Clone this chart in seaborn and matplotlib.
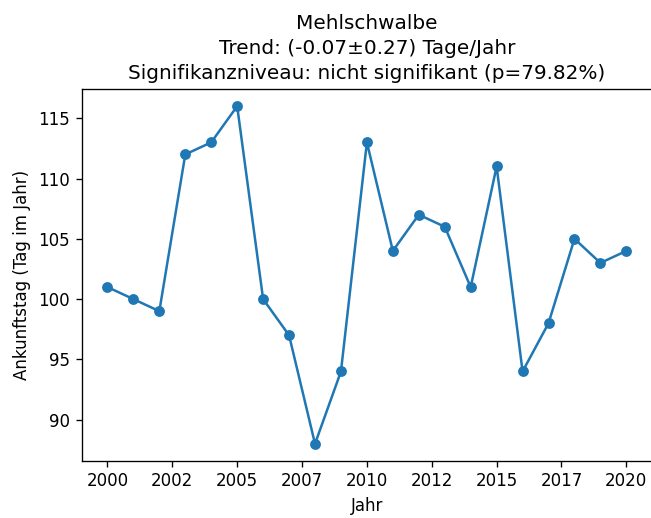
import matplotlib
matplotlib.use("Agg")
import matplotlib.pyplot as plt
import pandas as pd
import seaborn as sns
from matplotlib.ticker import FormatStrFormatter

# Ankunftstage der Mehlschwalbe
jahre = list(range(2000, 2021))
ankunftstag = [101, 100, 99, 112, 113, 116, 100, 97, 88, 94, 113,
               104, 107, 106, 101, 111, 94, 98, 105, 103, 104]

df = pd.DataFrame({'Jahr': jahre, 'Ankunftstag': ankunftstag})

# 651x518 px at 120 dpi
fig, ax = plt.subplots(figsize=(651 / 120, 518 / 120), dpi=120)
fig.subplots_adjust(left=81.5 / 651, right=1.002, top=1 - 89.3 / 518, bottom=1 - 460.7 / 518)

sns.lineplot(data=df, x='Jahr', y='Ankunftstag', marker='o', color='C0',
             markersize=6.5, markeredgewidth=0, ax=ax)

ax.xaxis.set_major_formatter(FormatStrFormatter('%d'))
ax.set_xlabel('Jahr')
ax.set_ylabel('Ankunftstag (Tag im Jahr)')
ax.set_title('Mehlschwalbe\nTrend: (-0.07±0.27) Tage/Jahr\n'
             'Signifikanzniveau: nicht signifikant (p=79.82%)', linespacing=1.4)

plt.savefig('out.png', dpi=120)
